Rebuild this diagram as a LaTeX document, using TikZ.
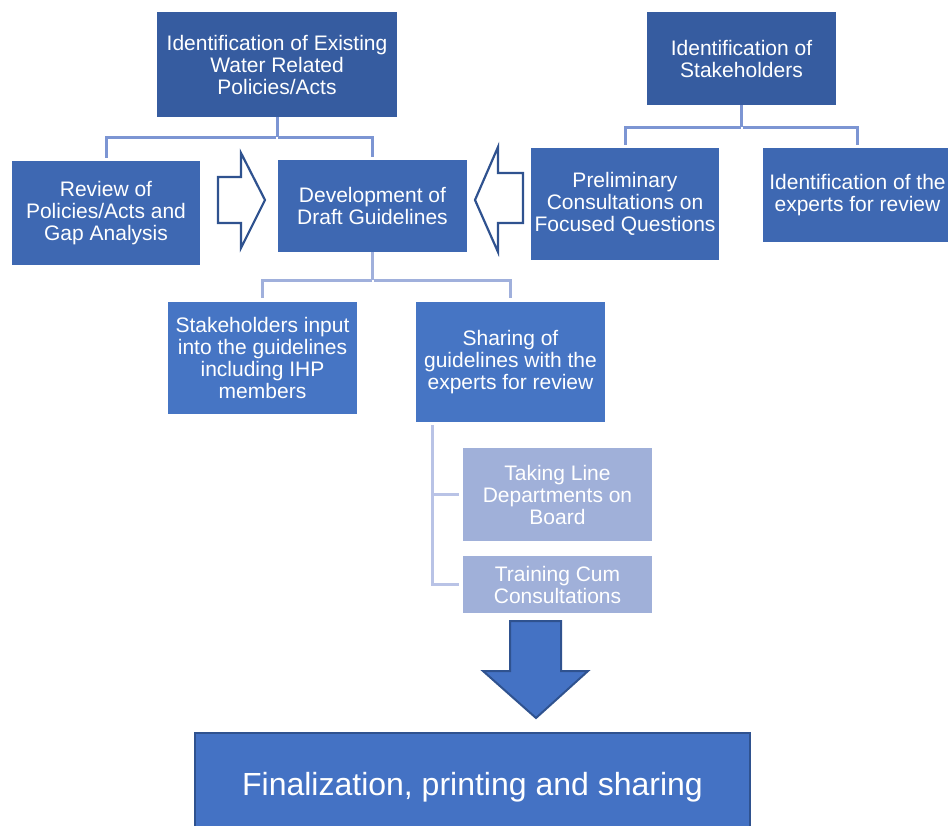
\documentclass[tikz,border=0pt]{standalone}
\usepackage{fontspec}
\setmainfont{Liberation Sans}
\usetikzlibrary{calc}

\definecolor{topblue}{RGB}{54,92,160}
\definecolor{midblue}{RGB}{62,104,178}
\definecolor{lowblue}{RGB}{70,117,196}
\definecolor{paleblue}{RGB}{160,176,217}
\definecolor{finalblue}{RGB}{68,114,196}
\definecolor{edgeblue}{RGB}{47,82,143}
\definecolor{linkA}{RGB}{124,149,211}
\definecolor{linkB}{RGB}{160,176,220}
\definecolor{linkC}{RGB}{185,195,230}

\tikzset{
  box/.style={rectangle, inner sep=0pt, text=white, align=center,
    font=\fontsize{21}{22}\selectfont},
  link/.style={line width=3pt},
  hollowarrow/.style={draw=edgeblue, line width=2.2pt, fill=white, line join=miter},
}

\begin{document}
\begin{tikzpicture}[x=1pt, y=-1pt]
\useasboundingbox (0,0) rectangle (948,825);

% top level
\node[box, fill=topblue, minimum width=240pt, minimum height=105pt] (b1) at (277,64.5)
  {Identification of Existing\\Water Related\\Policies/Acts};
\node[box, fill=topblue, minimum width=189pt, minimum height=93pt] (b2) at (741.5,58.5)
  {Identification of\\Stakeholders};

% second level
\node[box, fill=midblue, minimum width=188pt, minimum height=104pt] (b3) at (106,213)
  {Review of\\Policies/Acts and\\Gap Analysis};
\node[box, fill=midblue, minimum width=189pt, minimum height=92pt] (b4) at (372.5,206)
  {Development of\\Draft Guidelines};
\node[box, fill=midblue, minimum width=188pt, minimum height=112pt] (b5) at (625,204)
  {Preliminary\\Consultations on\\Focused Questions};
\node[box, fill=midblue, minimum width=189pt, minimum height=94pt] (b6) at (857.5,195)
  {Identification of the\\experts for review};

% third level
\node[box, fill=lowblue, minimum width=189pt, minimum height=112pt] (b7) at (262.5,358)
  {Stakeholders input\\into the guidelines\\including IHP\\members};
\node[box, fill=lowblue, minimum width=189pt, minimum height=120pt] (b8) at (510.5,362)
  {Sharing of\\guidelines with the\\experts for review};

% fourth level
\node[box, fill=paleblue, minimum width=189pt, minimum height=93pt] (b9) at (557.5,494.5)
  {Taking Line\\Departments on\\Board};
\node[box, fill=paleblue, minimum width=189pt, minimum height=57pt] (b10) at (557.5,584.5)
  {Training Cum\\Consultations};

% final step
\node[rectangle, fill=finalblue, draw=edgeblue, line width=2pt, text=white,
  font=\fontsize{32}{36}\selectfont, minimum width=555pt, minimum height=108pt] (fin)
  at (472.5,787) {Finalization, printing and sharing};

% tree connectors
\coordinate (j1) at ($(b1.south)+(0,20)$);
\draw[link, draw=linkA] (b1.south) -- (j1);
\draw[link, draw=linkA, shorten <=1pt, shorten >=3pt] (j1) -| (b3.north);
\draw[link, draw=linkA, shorten <=1pt, shorten >=3pt] (j1) -| (b4.north);

\coordinate (j2) at ($(b2.south)+(0,22)$);
\draw[link, draw=linkA] (b2.south) -- (j2);
\draw[link, draw=linkA, shorten <=1pt, shorten >=3pt] (j2) -| (b5.north);
\draw[link, draw=linkA, shorten <=1pt, shorten >=3pt] (j2) -| (b6.north);

\coordinate (j3) at ($(b4.south)+(0,28)$);
\draw[link, draw=linkB] (b4.south) -- (j3);
\draw[link, draw=linkB, shorten <=1pt, shorten >=4pt] (j3) -| (b7.north);
\draw[link, draw=linkB, shorten <=1pt, shorten >=4pt] (j3) -| (b8.north);

\coordinate (j4) at ($(b8.south west)+(17,3)$);
\draw[link, draw=linkC, shorten >=4pt] (j4) |- (b10.west);
\draw[link, draw=linkC, shorten >=4pt] (j4 |- b9.west) -- (b9.west);

% block arrows
\draw[hollowarrow] (218,177) -- (241,177) -- (241,153) -- (265,200)
  -- (241,248) -- (241,223) -- (218,223) -- cycle;
\draw[hollowarrow] (523,173) -- (498,173) -- (498,147) -- (475,200)
  -- (498,252) -- (498,223) -- (523,223) -- cycle;
\draw[fill=finalblue, draw=edgeblue, line width=2pt, line join=miter]
  (510,621) -- (561,621) -- (561,671) -- (588,671) -- (536,718)
  -- (483,671) -- (510,671) -- cycle;

\end{tikzpicture}
\end{document}
